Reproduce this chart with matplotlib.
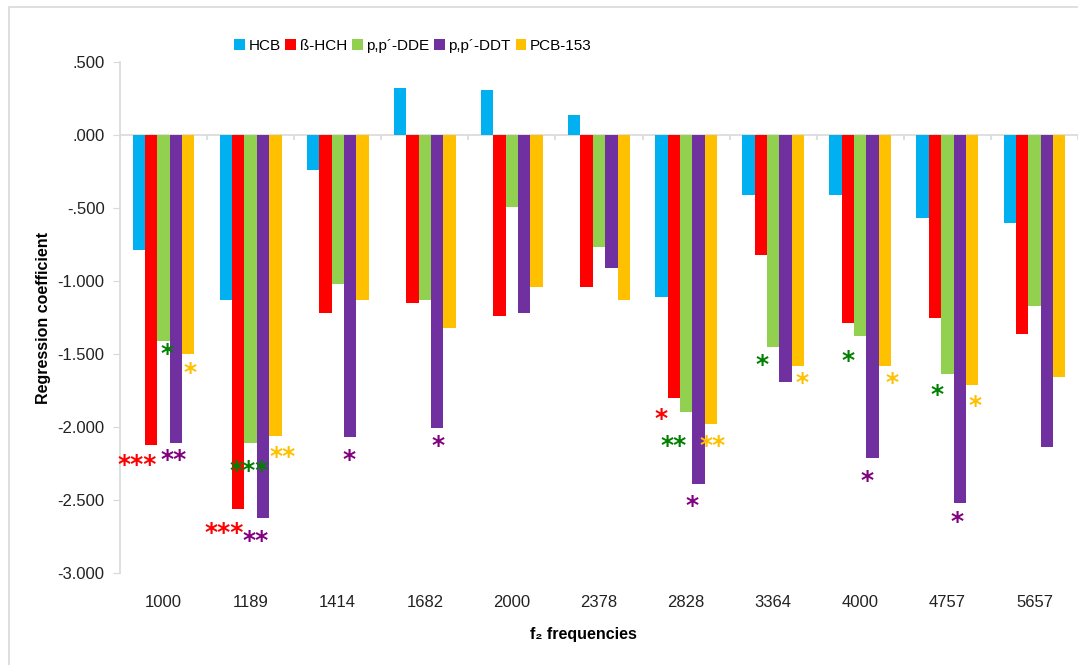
import matplotlib
matplotlib.use('Agg')
import matplotlib.pyplot as plt
from matplotlib.patches import Rectangle
import numpy as np

frequencies = ['1000', '1189', '1414', '1682', '2000', '2378', '2828', '3364', '4000', '4757', '5657']
series = ['HCB', 'ß-HCH', 'p,p\u00b4-DDE', 'p,p\u00b4-DDT', 'PCB-153']
hcb = [-0.79, -1.13, -0.24, 0.32, 0.31, 0.14, -1.11, -0.41, -0.41, -0.57, -0.60]
b_hch = [-2.12, -2.56, -1.22, -1.15, -1.24, -1.04, -1.80, -0.82, -1.29, -1.25, -1.36]
dde = [-1.41, -2.11, -1.02, -1.13, -0.49, -0.77, -1.90, -1.45, -1.38, -1.64, -1.17]
ddt = [-2.11, -2.62, -2.07, -2.01, -1.22, -0.91, -2.39, -1.69, -2.21, -2.52, -2.14]
pcb153 = [-1.50, -2.06, -1.13, -1.32, -1.04, -1.13, -1.98, -1.58, -1.58, -1.71, -1.66]
values = [hcb, b_hch, dde, ddt, pcb153]

# significance marks: (group, x offset within group, y, text, series index)
stars = [
    (0, -0.305, -2.23, '***', 1), (0, 0.038, -1.47, '*', 2), (0, 0.119, -2.20, '**', 3), (0, 0.302, -1.60, '*', 4),
    (1, -0.309, -2.70, '***', 1), (1, -0.022, -2.27, '***', 2), (1, 0.058, -2.75, '**', 3), (1, 0.367, -2.18, '**', 4),
    (2, 0.135, -2.20, '*', 3),
    (3, 0.154, -2.10, '*', 3),
    (6, -0.292, -1.92, '*', 1), (6, -0.143, -2.10, '**', 2), (6, 0.064, -2.51, '*', 3), (6, 0.304, -2.10, '**', 4),
    (7, -0.123, -1.55, '*', 2), (7, 0.335, -1.67, '*', 4),
    (8, -0.138, -1.52, '*', 2), (8, 0.080, -2.34, '*', 3), (8, 0.366, -1.67, '*', 4),
    (9, -0.119, -1.75, '*', 2), (9, 0.111, -2.62, '*', 3), (9, 0.317, -1.83, '*', 4),
]

bar_colors = ['#00B0F0', '#FF0000', '#92D050', '#7030A0', '#FFC000']
star_colors = ['#00B0F0', '#FF0000', '#008000', '#800080', '#FFC000']

plt.rcParams['font.family'] = ['Liberation Sans', 'DejaVu Sans']

fig = plt.figure(figsize=(10.78, 6.65), dpi=100)
ax = fig.add_axes([120 / 1078, 1 - 573 / 665, 1 - 120 / 1078, (573 - 62) / 665])

# chart frame (cut off at right and bottom like the source)
fig.add_artist(Rectangle((9 / 1078, -0.2), 1.2, 1.2 - 7 / 665, transform=fig.transFigure,
                         fill=False, edgecolor='#d9d9d9', linewidth=1.2))

x = np.arange(len(frequencies))
w = 0.142
for i, (name, vals) in enumerate(zip(series, values)):
    ax.bar(x + (i - 2) * w, vals, width=w, color=bar_colors[i], label=name, zorder=2)

for g, dx, y, txt, si in stars:
    ax.annotate(txt, (g + dx, y), xytext=(0, -3), textcoords='offset points',
                color=star_colors[si], ha='center', va='center',
                fontsize=18, fontweight='bold', family='DejaVu Sans', zorder=3)

ax.set_xlim(-0.5, len(frequencies) - 0.5)
ax.set_ylim(-3.0, 0.5)
yt = np.arange(-3.0, 0.51, 0.5)
ax.set_yticks(yt)
ax.set_yticklabels([f'{v:.3f}'.replace('0.', '.') for v in yt])
ax.set_xticks(x)
ax.set_xticklabels(frequencies)

ax.axhline(0, color='#d9d9d9', linewidth=1.2, zorder=1)
ax.vlines(np.arange(-0.5, len(frequencies)), 0, -0.035, color='#d9d9d9', linewidth=1.2, zorder=1)

for s in ['top', 'right', 'bottom']:
    ax.spines[s].set_visible(False)
ax.spines['left'].set_color('#d9d9d9')
ax.spines['left'].set_linewidth(1.2)
ax.tick_params(axis='y', length=5, color='#d9d9d9', labelsize=12, pad=6, labelcolor='#222222')
ax.tick_params(axis='x', length=0, labelsize=12, pad=16, labelcolor='#222222')

ax.set_ylabel('Regression coefficient', fontsize=11.5, fontweight='bold', labelpad=5)
fig.text(583 / 1078, 1 - 634 / 665, 'f\u2082 frequencies', ha='center', va='center',
         fontsize=11.5, fontweight='bold')

fig.legend(loc='center', bbox_to_anchor=(413 / 1078, 1 - 46 / 665), ncol=5, frameon=False,
           fontsize=11, handlelength=0.7, handleheight=0.7, handletextpad=0.25, columnspacing=0.3)

fig.savefig('out.png', dpi=100)
